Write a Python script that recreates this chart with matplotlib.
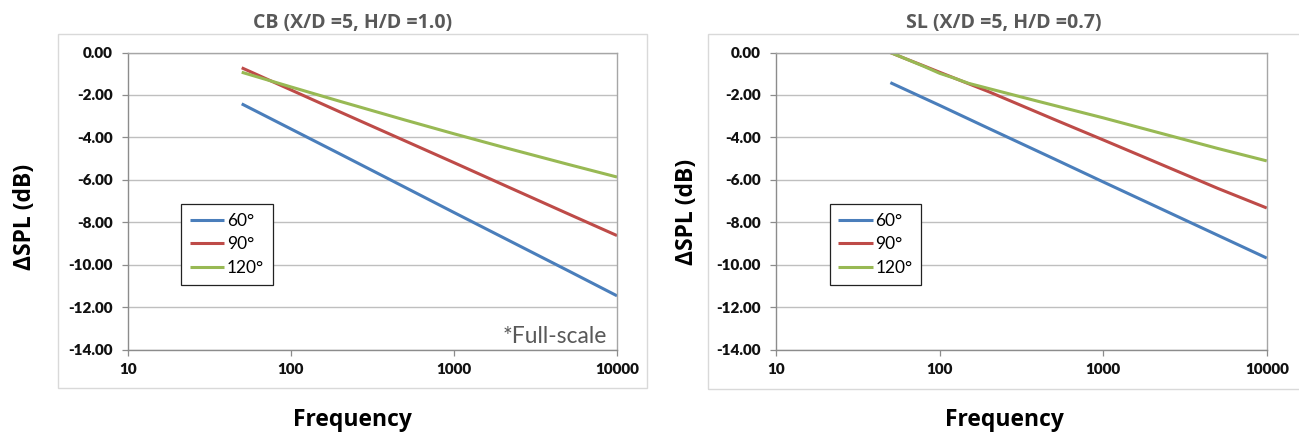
#!/usr/local/bin/python
# -*- coding: utf-8 -*-
'''spl_vs_frequency: CB / SL delta SPL panels
'''

import numpy as np
from matplotlib import pyplot as plt
from matplotlib.patches import Rectangle
from matplotlib.ticker import FixedLocator, FixedFormatter, NullLocator

FN_OUT = 'out.png'

# angles in legend
ANGLES = ['60°', '90°', '120°']
COLS = ['#4a7ebb', '#be4b48', '#98b954']

# CB (X/D =5, H/D =1.0)
cb_f60 = [50, 100, 200, 500, 1000, 2000, 5000, 10000]
cb_v60 = [-2.42, -3.60, -4.78, -6.35, -7.54, -8.72, -10.28, -11.47]
cb_f90 = [50, 100, 200, 500, 1000, 2000, 5000, 10000]
cb_v90 = [-0.72, -1.76, -2.80, -4.16, -5.19, -6.23, -7.60, -8.63]
cb_f120 = [50, 100, 200, 500, 1000, 2000, 5000, 10000]
cb_v120 = [-0.93, -1.62, -2.30, -3.18, -3.83, -4.46, -5.27, -5.87]

# SL (X/D =5, H/D =0.7)
sl_f60 = [50, 100, 200, 500, 1000, 2000, 5000, 10000]
sl_v60 = [-1.42, -2.49, -3.58, -5.01, -6.10, -7.18, -8.61, -9.69]
sl_f90 = [50, 60, 80, 100, 200, 500, 1000, 2000, 5000, 10000]
sl_v90 = [0.0, -0.25, -0.63, -0.93, -1.85, -3.15, -4.12, -5.10, -6.40, -7.33]
sl_f120 = [50, 60, 80, 100, 120, 150, 200, 400, 1000, 2000, 5000, 10000]
sl_v120 = [0.0, -0.25, -0.65, -0.98, -1.18, -1.45, -1.70, -2.30, -3.08, -3.70, -4.52, -5.11]

X_TICKS = [10, 100, 1000, 10000]
X_LABELS = ['10', '100', '1000', '10000']
Y_TICKS = [0, -2, -4, -6, -8, -10, -12, -14]

FONT = 'Lato'
HEAD = 'Open Sans'

def draw_panel(fig, rect, title, series, box, cx, note=None):
  # chart area frame
  fig.patches.append(Rectangle((box[0], box[1]), box[2], box[3], transform=fig.transFigure,
                               fill=False, edgecolor='#d9d9d9', lw=1.0))
  ax = fig.add_axes(rect)
  for (f, v), lab, c in zip(series, ANGLES, COLS):
    ax.plot(f, v, color=c, lw=2.2, label=lab, solid_capstyle='butt')
  ax.set_xscale('log')
  ax.set_xlim(10, 10000)
  ax.set_ylim(-14, 0)
  ax.xaxis.set_major_locator(FixedLocator(X_TICKS))
  ax.xaxis.set_major_formatter(FixedFormatter(X_LABELS))
  ax.xaxis.set_minor_locator(NullLocator())
  ax.set_yticks(Y_TICKS)
  ax.set_yticklabels(['%.2f' % t for t in Y_TICKS])
  ax.yaxis.grid(True, color='#bfbfbf', lw=1.0)
  ax.set_axisbelow(True)
  for s in ['left', 'bottom']:
    ax.spines[s].set_color('#8c8c8c')
  for s in ['top', 'right']:
    ax.spines[s].set_color('#a6a6a6')
  for s in ax.spines.values():
    s.set_linewidth(1.0)
  ax.tick_params(axis='both', direction='out', length=4, width=0.9, color='#8c8c8c',
                 labelsize=11, labelcolor='#111111')
  ax.tick_params(axis='y', pad=7)
  ax.tick_params(axis='x', pad=6)
  for t in ax.get_xticklabels() + ax.get_yticklabels():
    t.set_fontweight('heavy')
    t.set_family(FONT)
  leg = ax.legend(loc='upper left', bbox_to_anchor=(0.109, 0.49), fancybox=False,
                  framealpha=1.0, edgecolor='#222222', handlelength=2.0,
                  handletextpad=0.15, borderpad=0.5, labelspacing=0.45,
                  borderaxespad=0.0, prop={'family': FONT, 'size': 12.5})
  leg.get_frame().set_linewidth(0.9)
  if note:
    ax.text(0.98, 0.045, note, transform=ax.transAxes, ha='right', va='center',
            fontsize=16.5, color='#595959', family=FONT)
  fig.text(cx, 0.947, title, ha='center', va='center', fontsize=14, fontweight='bold',
           color='#595959', family=HEAD)
  fig.text(cx, 0.032, 'Frequency', ha='center', va='center', fontsize=16.5,
           fontweight='bold', color='black', family=HEAD)
  return ax

def main():
  fig = plt.figure(figsize=(12.99, 4.34), dpi=100)
  draw_panel(fig, [0.0983, 0.1947, 0.3767, 0.6843], 'CB (X/D =5, H/D =1.0)',
             [(cb_f60, cb_v60), (cb_f90, cb_v90), (cb_f120, cb_v120)],
             [0.0447, 0.106, 0.4535, 0.816], 0.2714, note='*Full-scale')
  draw_panel(fig, [0.5974, 0.1947, 0.3778, 0.6843], 'SL (X/D =5, H/D =0.7)',
             [(sl_f60, sl_v60), (sl_f90, sl_v90), (sl_f120, sl_v120)],
             [0.545, 0.104, 0.46, 0.818], 0.773)
  fig.text(0.019, 0.499, 'ΔSPL (dB)', rotation=90, ha='center', va='center',
           fontsize=16.5, fontweight='bold', family=HEAD)
  fig.text(0.529, 0.511, 'ΔSPL (dB)', rotation=90, ha='center', va='center',
           fontsize=16.5, fontweight='bold', family=HEAD)
  fig.savefig(FN_OUT, dpi=100, facecolor='white')

if __name__ == '__main__':
  main()
